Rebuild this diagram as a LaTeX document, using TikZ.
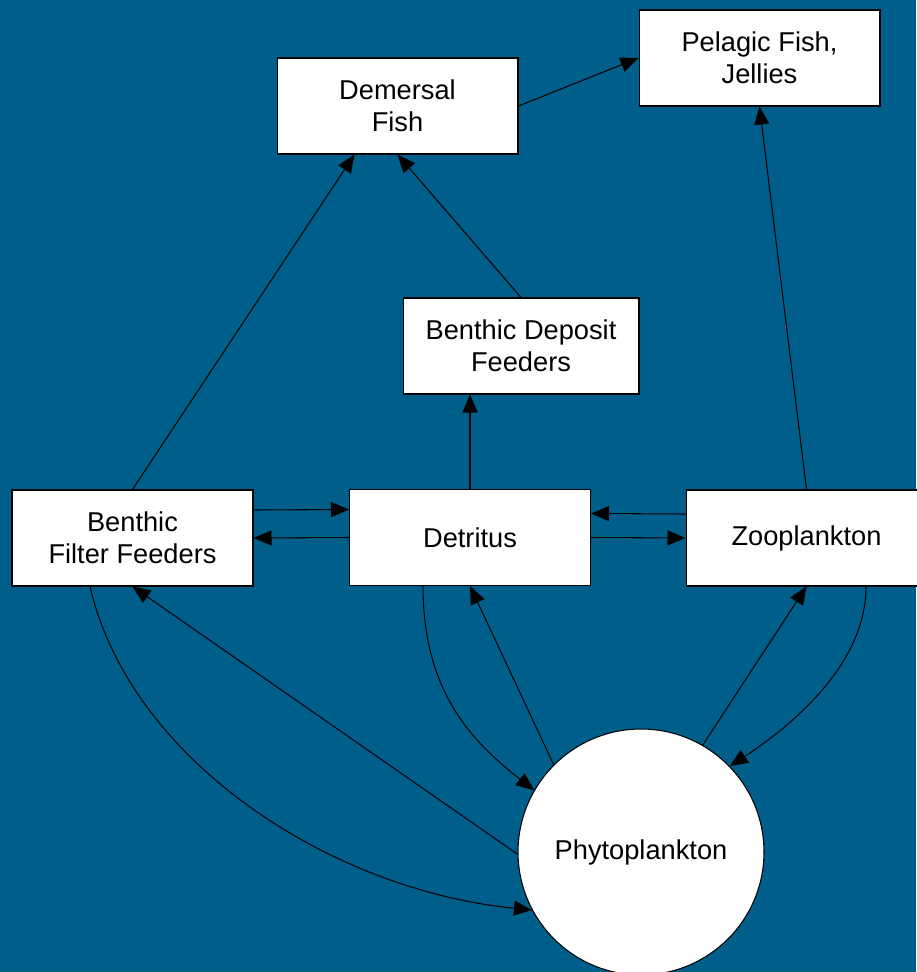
\documentclass[tikz,border=0pt]{standalone}
\usepackage{fontspec}
\setmainfont{Liberation Sans}
\usetikzlibrary{arrows.meta}
\definecolor{seablue}{RGB}{0,95,138}
\tikzset{
  box/.style={draw=black, fill=white, line width=0.6pt, minimum width=4.82cm, minimum height=1.92cm, align=center, font=\fontsize{15.5}{18}\selectfont},
  blob/.style={circle, draw=black, fill=white, line width=0.6pt, minimum size=4.92cm, inner sep=0pt, font=\fontsize{15.5}{18}\selectfont}
}

\begin{document}
\begin{tikzpicture}[x=0.02cm, y=-0.02cm, >={Triangle[length=0.36cm,width=0.3cm]}, line width=0.6pt]

\fill[seablue] (0,0) rectangle (916,972);
\useasboundingbox (0,0) rectangle (916,972);

\node[box] (demersal) at (397.5,106) {Demersal\\Fish};
\node[box] (pelagic) at (759.5,58) {Pelagic Fish,\\Jellies};
\node[box, minimum width=4.72cm] (deposit) at (521,346) {Benthic Deposit\\Feeders};
\node[box] (filter) at (132.5,538) {Benthic\\Filter Feeders};
\node[box] (detritus) at (470,537.5) {Detritus};
\node[box] (zoo) at (806.5,538) {Zooplankton};
\node[blob] (phyto) at (641,852) {Phytoplankton};

\draw[->] (demersal.east) -- (pelagic.west);
\draw[->] (filter.north) -- ([xshift=-0.86cm]demersal.south);
\draw[->] (deposit.north) -- (demersal.south);
\draw[->] (detritus.north) -- (detritus.north |- deposit.south);
\draw[->] (zoo.north) -- (pelagic.south);

\draw[->] ([yshift=0.56cm]filter.east) -- ([yshift=0.56cm]detritus.west);
\draw[->] (detritus.west) -- (filter.east);
\draw[->] ([yshift=0.48cm]zoo.west) -- ([yshift=0.48cm]detritus.east);
\draw[->] (detritus.east) -- (zoo.west);

\draw[->] (phyto.60) -- (zoo.south);
\draw[->] (phyto.135) -- (detritus.south);
\draw[->] (phyto.181) -- (filter.south);

\draw[->] ([xshift=1.19cm]zoo.south) .. controls (866,660) and (800,720) .. (phyto.44);
\draw[->] ([xshift=-0.94cm]detritus.south) .. controls (423,690) and (470,740) .. (phyto.150);
\draw[->] ([xshift=-0.85cm]filter.south) .. controls (130,760) and (330,890) .. (phyto.208);

\end{tikzpicture}
\end{document}
